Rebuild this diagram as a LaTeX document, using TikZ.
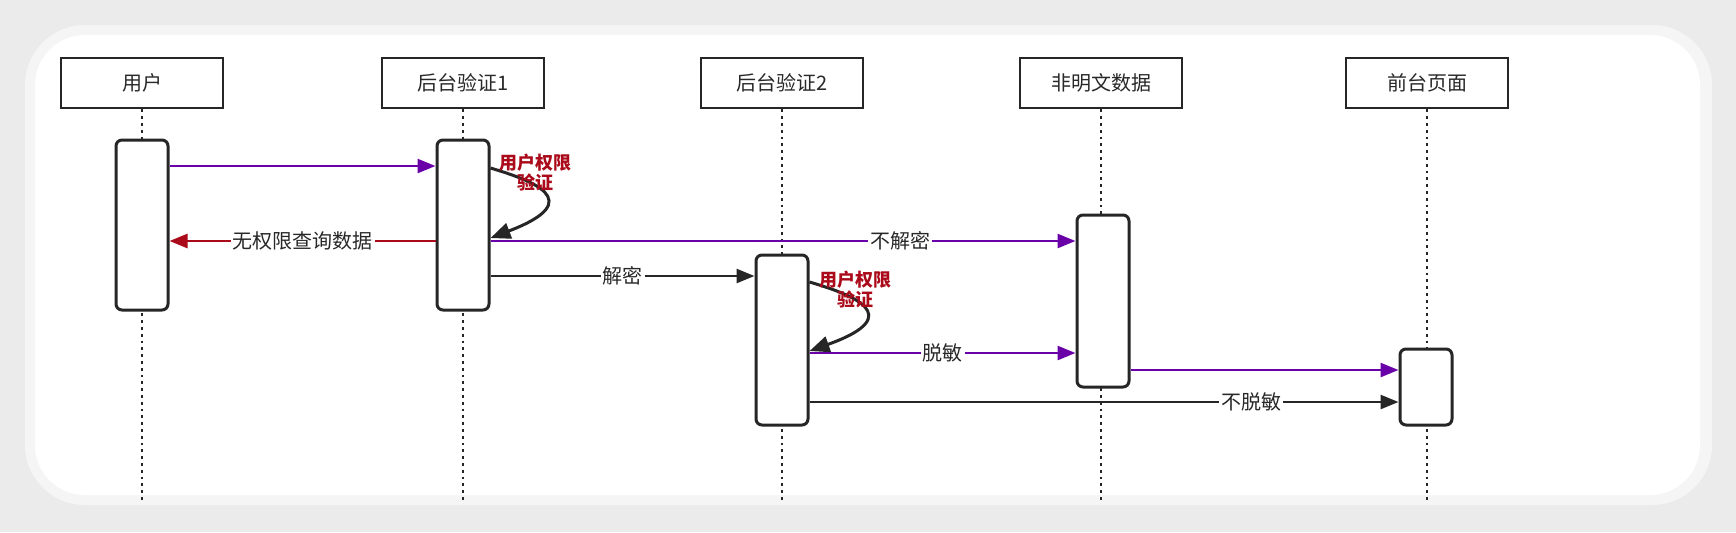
\documentclass[tikz,border=0pt]{standalone}
\usepackage{fontspec}
\setmainfont{Noto Sans CJK SC}
\usetikzlibrary{arrows.meta}
\definecolor{pur}{RGB}{106,0,168}
\definecolor{drd}{RGB}{170,10,25}
\definecolor{txt}{RGB}{40,40,40}
\begin{document}
\begin{tikzpicture}[x=0.5pt,y=-0.5pt,
  hdr/.style={draw=black!85,line width=1.4pt,minimum width=81pt,minimum height=25pt,inner sep=0pt,font=\fontsize{10}{12}\selectfont,text=txt},
  act/.style={draw=black!85,line width=1.5pt,rounded corners=3pt,fill=white,minimum width=26pt,inner sep=0pt},
  life/.style={black!85,line width=1.4pt,dotted},
  msg/.style={line width=1.3pt,-{Triangle[length=9pt,width=7pt]}},
  lbl/.style={fill=white,inner sep=1pt,font=\fontsize{10}{12}\selectfont,text=txt},
  slbl/.style={font=\bfseries\fontsize{9}{10}\selectfont,text=drd,align=center,inner sep=0pt}]
\useasboundingbox (0,0) rectangle (1736,532);
\fill[black!8] (0,0) rectangle (1736,532);
\fill[black!4,rounded corners=30pt] (25,25) rectangle (1712,505);
\fill[white,rounded corners=25pt] (35,35) rectangle (1700,495);
% headers
\node[hdr] (h1) at (142,83) {用户};
\node[hdr] (h2) at (463,83) {后台验证1};
\node[hdr] (h3) at (782,83) {后台验证2};
\node[hdr] (h4) at (1101,83) {非明文数据};
\node[hdr] (h5) at (1427,83) {前台页面};
\foreach \i/\x in {1/142,2/463,3/782,4/1101,5/1427}{
  \coordinate (e\i) at (\x,500);
  \draw[life] (h\i.south) -- (e\i);}
% activations
\node[act,minimum height=85pt] (a1) at (142,225) {};
\node[act,minimum height=85pt] (a2) at (463,225) {};
\node[act,minimum height=85pt] (a3) at (782,340) {};
\node[act,minimum height=86pt] (a4) at (1103,301) {};
\node[act,minimum height=38pt] (a5) at (1426,387) {};
% messages
\draw[msg,pur] (a1.east|-0,166) -- (a2.west|-0,166);
\draw[msg,drd] (a2.west|-0,241) -- node[lbl]{无权限查询数据} (a1.east|-0,241);
\draw[line width=1.5pt,black!85,-{Triangle[length=10pt,width=8pt]}] (a2.east|-0,168) .. controls (530,180) and (590,200) .. (a2.east|-0,238);
\node[slbl] (s1) at (535,173) {用户权限\\验证};
\draw[msg,pur] (a2.east|-0,241) -- node[lbl,pos=0.7]{不解密} (a4.west|-0,241);
\draw[msg,black!85] (a2.east|-0,276) -- node[lbl]{解密} (a3.west|-0,276);
\draw[line width=1.5pt,black!85,-{Triangle[length=10pt,width=8pt]}] (a3.east|-0,282) .. controls (850,294) and (910,315) .. (a3.east|-0,351);
\node[slbl] (s2) at (855,290) {用户权限\\验证};
\draw[msg,pur] (a3.east|-0,353) -- node[lbl]{脱敏} (a4.west|-0,353);
\draw[msg,pur] (a4.east|-0,370) -- (a5.west|-0,370);
\draw[msg,black!85] (a3.east|-0,402) -- node[lbl,pos=0.75]{不脱敏} (a5.west|-0,402);
\end{tikzpicture}
\end{document}
